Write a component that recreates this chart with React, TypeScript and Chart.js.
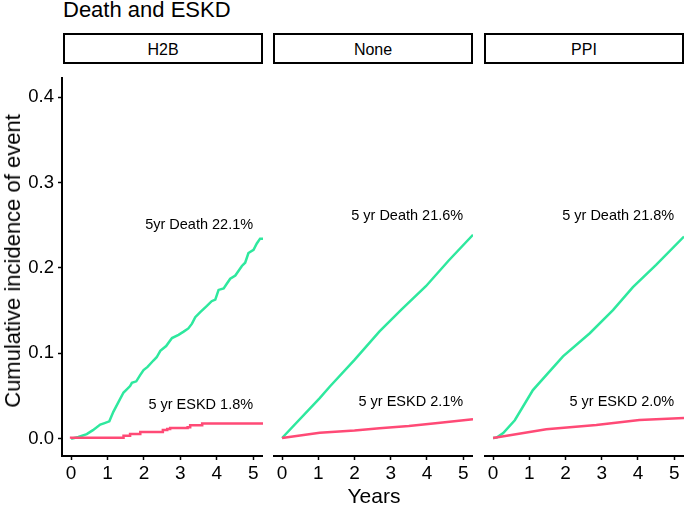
import React, { useEffect, useRef } from 'react';
import { Chart, registerables } from 'chart.js';

Chart.register(...registerables);

// ---------- data ----------
const panels = ['H2B', 'None', 'PPI'];
const xTicks = [0, 1, 2, 3, 4, 5];
const xTickLabels = ['0', '1', '2', '3', '4', '5'];
const yTicks = [0, 0.1, 0.2, 0.3, 0.4];
const yTickLabels = ['0.0', '0.1', '0.2', '0.3', '0.4'];

const deathLabels = ['5yr Death 22.1%', '5 yr Death 21.6%', '5 yr Death 21.8%'];
const eskdLabels = ['5 yr ESKD 1.8%', '5 yr ESKD 2.1%', '5 yr ESKD 2.0%'];

// H2B
const h2bDeathT = [0, 0.2, 0.43, 0.6, 0.8, 0.9, 1.05, 1.16, 1.3, 1.44, 1.53, 1.62, 1.67, 1.79, 1.9, 1.99, 2.1, 2.26, 2.35, 2.45, 2.61, 2.77, 2.95, 3.09, 3.22, 3.32, 3.41, 3.54, 3.73, 3.86, 3.96, 4.05, 4.19, 4.28, 4.37, 4.51, 4.69, 4.78, 4.87, 5.01, 5.1, 5.19, 5.27];
const h2bDeathV = [0, 0.002, 0.0053, 0.01, 0.0165, 0.018, 0.0203, 0.0315, 0.0428, 0.0541, 0.0578, 0.0616, 0.0654, 0.0672, 0.0747, 0.0804, 0.0841, 0.0916, 0.0954, 0.1029, 0.1085, 0.1179, 0.1217, 0.1254, 0.1292, 0.1348, 0.1423, 0.148, 0.1555, 0.1611, 0.163, 0.1743, 0.1761, 0.1818, 0.1874, 0.1912, 0.2024, 0.2062, 0.2175, 0.2212, 0.2287, 0.2344, 0.2344];
const h2bEskdT = [0, 1.44, 1.62, 1.9, 2.52, 2.64, 2.72, 3.2, 3.27, 3.6, 4.7, 5.27];
const h2bEskdV = [0, 0.0011, 0.0034, 0.0056, 0.0079, 0.0102, 0.0113, 0.0124, 0.0135, 0.0158, 0.0177, 0.0177];

// None
const noneDeathT = [0, 1.04, 1.32, 2.0, 2.69, 3.3, 3.97, 4.6, 5.27];
const noneDeathV = [0, 0.045, 0.058, 0.088, 0.12, 0.145, 0.171, 0.2, 0.229];
const noneEskdT = [0, 1.04, 2.0, 2.69, 3.5, 4.3, 5.27];
const noneEskdV = [0, 0.006, 0.0085, 0.011, 0.0135, 0.017, 0.021];

// PPI
const ppiDeathT = [0, 0.1, 0.28, 0.6, 1.1, 1.93, 2.67, 3.31, 3.86, 4.5, 5.27];
const ppiDeathV = [0, 0.0005, 0.0055, 0.02, 0.054, 0.092, 0.118, 0.144, 0.17, 0.195, 0.227];
const ppiEskdT = [0, 1.47, 2.85, 4.04, 5.27];
const ppiEskdV = [0, 0.0098, 0.0146, 0.0203, 0.0225];

const deathT = [h2bDeathT, noneDeathT, ppiDeathT];
const deathV = [h2bDeathV, noneDeathV, ppiDeathV];
const eskdT = [h2bEskdT, noneEskdT, ppiEskdT];
const eskdV = [h2bEskdV, noneEskdV, ppiEskdV];
const eskdStepped = [true, false, false];

// ---------- layout / style ----------
const FONT = '"Liberation Sans", Arial, Helvetica, sans-serif';
const GREEN = '#2EE89E';
const PINK = '#FF4A76';
const X_MIN = -0.25;
const X_MAX = 5.27;
const Y_MIN = -0.0203;
const Y_MAX = 0.4225;
const LABEL_X = 5;
const DEATH_LABEL_Y = 0.25;
const ESKD_LABEL_Y = 0.04;

const PLOT_TOP = 63;
const CANVAS_H = 427;
const X_AXIS_H = 34;
const Y_AXIS_W = 62;
const panelLeft = [62, 273, 484];
const panelRight = [263, 473, 684];

function toXY(t: number[], v: number[]) {
  return t.map((tt, i) => ({ x: tt, y: v[i] }));
}

function Panel({ index }: { index: number }) {
  const ref = useRef<HTMLCanvasElement | null>(null);
  const first = index === 0;
  const left = first ? 0 : panelLeft[index];
  const width = panelRight[index] - left;

  useEffect(() => {
    if (!ref.current) return;
    const annPlugin = {
      id: 'ann' + index,
      afterDatasetsDraw(chart: any) {
        const { ctx, scales } = chart;
        const x = scales.x;
        const y = scales.y;
        ctx.save();
        ctx.font = `14.5px ${FONT}`;
        ctx.fillStyle = '#000';
        ctx.textAlign = 'right';
        ctx.textBaseline = 'middle';
        ctx.fillText(deathLabels[index], x.getPixelForValue(LABEL_X), y.getPixelForValue(DEATH_LABEL_Y));
        ctx.fillText(eskdLabels[index], x.getPixelForValue(LABEL_X), y.getPixelForValue(ESKD_LABEL_Y));
        ctx.restore();
      },
    };
    const axisGrid = {
      drawOnChartArea: false,
      drawTicks: true,
      tickLength: 4,
      color: '#000',
      tickWidth: 1.5,
    };
    const chart = new Chart(ref.current, {
      type: 'line',
      data: {
        datasets: [
          {
            label: 'ESKD',
            data: toXY(eskdT[index], eskdV[index]),
            borderColor: PINK,
            borderWidth: 2.5,
            pointRadius: 0,
            stepped: eskdStepped[index] ? 'after' : false,
            tension: 0,
          },
          {
            label: 'Death',
            data: toXY(deathT[index], deathV[index]),
            borderColor: GREEN,
            borderWidth: 2.5,
            pointRadius: 0,
            tension: 0,
          },
        ],
      },
      options: {
        responsive: false,
        animation: false,
        events: [],
        layout: { padding: 0 },
        plugins: { legend: { display: false }, tooltip: { enabled: false } },
        scales: {
          x: {
            type: 'linear',
            min: X_MIN,
            max: X_MAX,
            afterBuildTicks: (s: any) => {
              s.ticks = xTicks.map((v) => ({ value: v }));
            },
            afterFit: (s: any) => {
              s.height = X_AXIS_H;
            },
            grid: axisGrid,
            border: { display: true, color: '#000', width: 2 },
            ticks: {
              color: '#000',
              font: { size: 19, family: FONT },
              padding: 2,
              maxRotation: 0,
              callback: (v: any) => xTickLabels[xTicks.indexOf(Number(v))] ?? '',
            },
          },
          y: {
            type: 'linear',
            display: first,
            min: Y_MIN,
            max: Y_MAX,
            afterBuildTicks: (s: any) => {
              s.ticks = yTicks.map((v) => ({ value: v }));
            },
            afterFit: (s: any) => {
              s.width = first ? Y_AXIS_W : 0;
            },
            grid: axisGrid,
            border: { display: true, color: '#000', width: 2 },
            ticks: {
              color: '#000',
              font: { size: 18.5, family: FONT },
              padding: 4,
              callback: (v: any) => yTickLabels[yTicks.indexOf(Number(v))] ?? '',
            },
          },
        },
      },
      plugins: [annPlugin],
    } as any);
    return () => chart.destroy();
  }, [index]);

  return (
    <canvas
      ref={ref}
      width={width}
      height={CANVAS_H}
      style={{ position: 'absolute', left, top: PLOT_TOP, width, height: CANVAS_H }}
    />
  );
}

export default function App() {
  useEffect(() => {
    document.body.style.margin = '0';
  }, []);
  return (
    <div
      style={{
        position: 'relative',
        width: 685,
        height: 505,
        background: '#fff',
        fontFamily: FONT,
        color: '#000',
        overflow: 'hidden',
      }}
    >
      <div
        style={{
          position: 'absolute',
          left: 63,
          top: -1,
          fontSize: 22,
          lineHeight: '22px',
          whiteSpace: 'nowrap',
        }}
      >
        Death and ESKD
      </div>
      {panels.map((p, i) => (
        <div
          key={p}
          style={{
            position: 'absolute',
            left: panelLeft[i] + (i === 0 ? 1 : 0),
            top: 33,
            width: panelRight[i] - panelLeft[i] - (i === 0 ? 1 : 0),
            height: 31,
            boxSizing: 'border-box',
            border: '2px solid #000',
            display: 'flex',
            alignItems: 'center',
            justifyContent: 'center',
            fontSize: 16,
            paddingTop: 2,
          }}
        >
          {p}
        </div>
      ))}
      {panels.map((p, i) => (
        <Panel key={'c' + p} index={i} />
      ))}
      <div
        style={{
          position: 'absolute',
          left: 13,
          top: 261,
          transform: 'translate(-50%, -50%) rotate(-90deg)',
          fontSize: 22,
          lineHeight: '22px',
          whiteSpace: 'nowrap',
        }}
      >
        Cumulative incidence of event
      </div>
      <div
        style={{
          position: 'absolute',
          left: 374,
          top: 485,
          transform: 'translateX(-50%)',
          fontSize: 21,
          lineHeight: '21px',
          whiteSpace: 'nowrap',
        }}
      >
        Years
      </div>
    </div>
  );
}
